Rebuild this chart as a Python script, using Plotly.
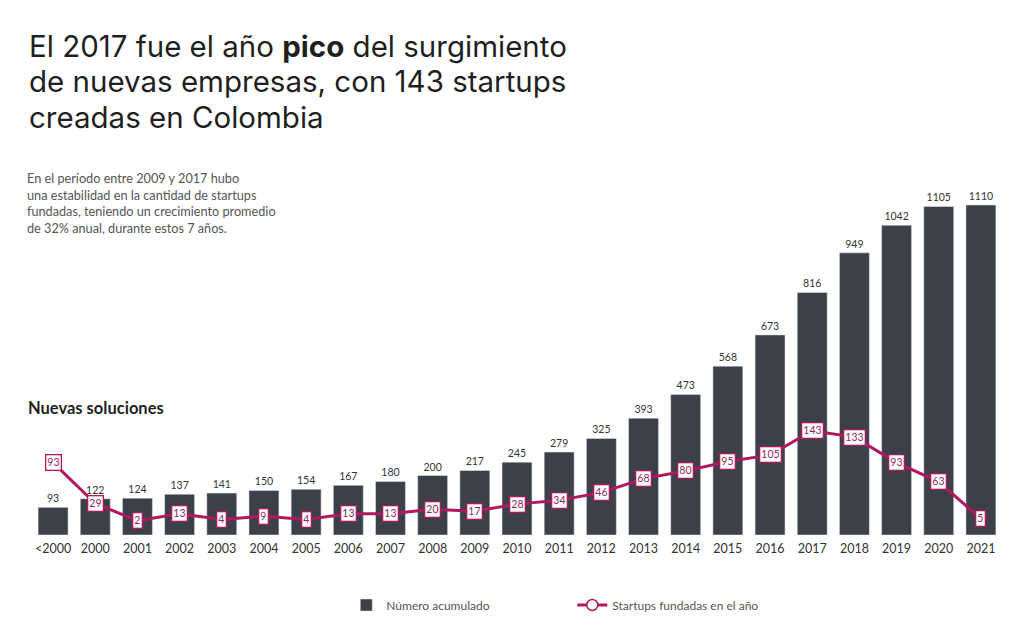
import plotly.graph_objects as go

categories = ["<2000"] + [str(y) for y in range(2000, 2022)]
acumulado = [93, 122, 124, 137, 141, 150, 154, 167, 180, 200, 217, 245, 279, 325, 393, 473,
             568, 673, 816, 949, 1042, 1105, 1110]
fundadas = [93, 29, 2, 13, 4, 9, 4, 13, 13, 20, 17, 28, 34, 46, 68, 80, 95, 105, 143, 133,
            93, 63, 5]
title_lines = ["El 2017 fue el año <b>pico</b> del surgimiento",
               "de nuevas empresas, con 143 startups",
               "creadas en Colombia"]

BAR = "#3b4049"
MAG = "#b0185f"

# page body has an 8px margin: figure is 1011x623 placed at (8, 8)
PLOT_TOP = 142
PLOT_H = 385


def py(y_page):
    """page pixel y -> paper coordinate"""
    return (PLOT_TOP + PLOT_H - (y_page - 8)) / PLOT_H


fig = go.Figure()
fig.add_trace(go.Bar(
    x=categories, y=acumulado, name="Número acumulado",
    marker_color=BAR, text=acumulado, textposition="outside",
    textfont=dict(size=10.5, color="#333333", family="Lato"), cliponaxis=False,
))
fig.add_trace(go.Scatter(
    x=categories, y=fundadas, name="Startups fundadas en el año", yaxis="y2",
    mode="lines+markers", line=dict(color=MAG, width=3),
    marker=dict(symbol="circle", size=11, color="white", line=dict(color=MAG, width=1.5)),
    cliponaxis=False,
))

for i, v in enumerate(fundadas):
    fig.add_annotation(x=i, y=v, xref="x", yref="y2", text=str(v), showarrow=False,
                       bgcolor="white", bordercolor=MAG, borderwidth=1.3, borderpad=1,
                       font=dict(size=10.5, color="#8a2a5a", family="Lato"))

for line, yc in zip(title_lines, [46, 81, 117]):
    fig.add_annotation(xref="paper", yref="paper", x=-0.005, y=py(yc), xanchor="left", yanchor="middle",
                       text=line, showarrow=False, align="left",
                       font=dict(size=29.5, color="#1f1f1f", family="Inter"))

fig.add_annotation(xref="paper", yref="paper", x=-0.0075, y=py(168), xanchor="left", yanchor="top",
                   text="En el período entre 2009 y 2017 hubo<br>una estabilidad en la cantidad de startups<br>fundadas, teniendo un crecimiento promedio<br>de 32% anual, durante estos 7 años.",
                   showarrow=False, align="left",
                   font=dict(size=12.7, color="#555555", family="Lato"))

fig.add_annotation(xref="paper", yref="paper", x=-0.006, y=py(408), xanchor="left", yanchor="middle",
                   text="<b>Nuevas soluciones</b>", showarrow=False, align="left",
                   font=dict(size=16.5, color="#1f1f1f", family="Lato"))

fig.update_layout(
    width=1011, height=623,
    margin=dict(l=24, r=17, t=PLOT_TOP, b=623 - PLOT_TOP - PLOT_H),
    paper_bgcolor="white", plot_bgcolor="white",
    bargap=0.29,
    showlegend=True,
    legend=dict(orientation="h", x=0.324, y=py(605), xanchor="left", yanchor="middle",
                font=dict(size=12, color="#555555", family="Lato"), entrywidth=181),
    xaxis=dict(type="category", range=[-0.5, 22.5], showgrid=False, showline=False, ticks="",
               ticklabelstandoff=4,
               tickfont=dict(size=12.5, color="#333333", family="Lato")),
    yaxis=dict(range=[0, 1295], visible=False),
    yaxis2=dict(range=[-20.4, 583], overlaying="y", visible=False),
    font=dict(family="Lato"),
)

fig.write_html("out.html")
